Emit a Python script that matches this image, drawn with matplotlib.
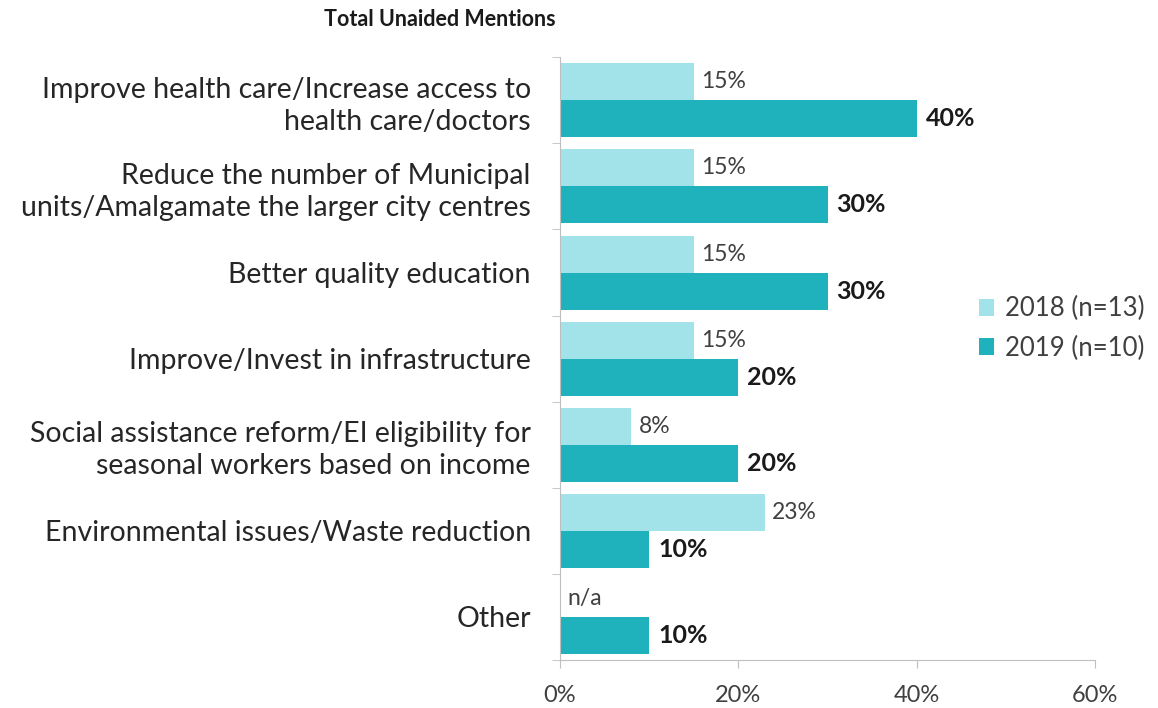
import matplotlib.pyplot as plt
import numpy as np

# data
categories = [
    "Improve health care/Increase access to\nhealth care/doctors",
    "Reduce the number of Municipal\nunits/Amalgamate the larger city centres",
    "Better quality education",
    "Improve/Invest in infrastructure",
    "Social assistance reform/EI eligibility for\nseasonal workers based on income",
    "Environmental issues/Waste reduction",
    "Other",
]
vals_2018 = [15, 15, 15, 15, 8, 23, None]
vals_2019 = [40, 30, 30, 20, 20, 10, 10]
series_names = ["2018 (n=13)", "2019 (n=10)"]
xticks = [0, 20, 40, 60]

c2018 = '#a2e3e9'
c2019 = '#1fb1bc'
font = 'Lato'

fig = plt.figure(figsize=(11.58, 7.08), dpi=100)
ax = fig.add_axes([0.4836, 0.068, 0.462, 0.851])

y = np.arange(len(categories))
h = 0.43
v18 = [v if v is not None else 0 for v in vals_2018]
ax.barh(y - h / 2, v18, height=h, color=c2018, label=series_names[0])
ax.barh(y + h / 2, vals_2019, height=h, color=c2019, label=series_names[1])

# data labels
for i, v in enumerate(vals_2018):
    txt = f"{v}%" if v is not None else "n/a"
    ax.text((v or 0) + 0.8, i - h / 2, txt, va='center', ha='left',
            fontsize=16.5, family=font, color='#404040')
for i, v in enumerate(vals_2019):
    ax.text(v + 1.0, i + h / 2, f"{v}%", va='center', ha='left',
            fontsize=18, family=font, fontweight='bold', color='#1a1a1a')

ax.set_ylim(len(categories) - 0.5, -0.5)
ax.set_xlim(0, 60)
ax.set_xticks(xticks)
ax.set_xticklabels([f"{t}%" for t in xticks], family=font, fontsize=17, color='#404040')
ax.set_yticks(y)
ax.set_yticklabels(categories, family=font, fontsize=20.5, color='#262626',
                   linespacing=1.3)
ax.tick_params(axis='y', length=0, pad=21)
ax.set_yticks(np.arange(-0.5, len(categories)), minor=True)
ax.tick_params(axis='y', which='minor', length=6, color='#bfbfbf')
ax.tick_params(axis='x', length=6, color='#bfbfbf', pad=12)

for s in ['top', 'right']:
    ax.spines[s].set_visible(False)
for s in ['left', 'bottom']:
    ax.spines[s].set_color('#bfbfbf')

leg = ax.legend(loc='center left', bbox_to_anchor=(0.74, 0.55), frameon=False,
                prop={'family': font, 'size': 18.5}, handlelength=0.6,
                handleheight=0.6, handletextpad=0.4, labelspacing=0.55)
for t in leg.get_texts():
    t.set_color('#404040')

fig.text(440 / 1158, 1 - 20 / 708, "Total Unaided Mentions", ha='center', va='center',
         fontsize=15.5, fontweight='bold', family=font, color='#1a1a1a')

fig.savefig('out.png', dpi=100)
